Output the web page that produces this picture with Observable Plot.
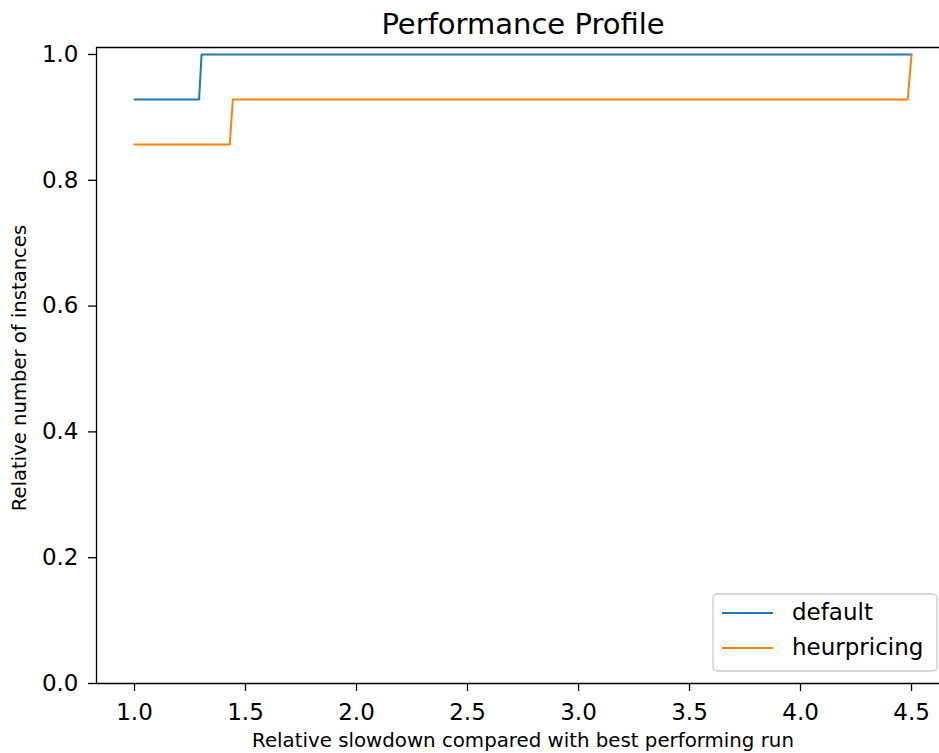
<!DOCTYPE html>
<html>
<head>
<meta charset="utf-8">
<script src="https://cdn.jsdelivr.net/npm/d3@7"></script>
<script src="https://cdn.jsdelivr.net/npm/@observablehq/plot@0.6"></script>
<style>
  body { margin: 0; background: #fff; font-family: "DejaVu Sans", sans-serif; }
  #wrap { position: relative; width: 939px; height: 753px; overflow: hidden; background: #fff; }
  #title { position: absolute; left: 0; top: 0; width: 939px; height: 36px; z-index: 2; }
  #title span { position: absolute; left: 523px; top: 9.5px; transform: translateX(-50%); font-size: 29px; color: #000; white-space: nowrap; line-height: 1; }
  #chart { position: absolute; left: 0; top: 36px; }
</style>
</head>
<body>
<div id="wrap">
  <div id="title"><span>Performance Profile</span></div>
  <div id="chart"></div>
</div>
<script>
const titleText = "Performance Profile";
const xLabel = "Relative slowdown compared with best performing run";
const yLabel = "Relative number of instances";
const seriesNames = ["default", "heurpricing"];
const seriesColors = ["#1f77b4", "#ff7f0e"];

const defaultX = [1.0, 1.291, 1.302, 4.5];
const defaultY = [0.9286, 0.9286, 1.0, 1.0];
const heurX = [1.0, 1.429, 1.443, 4.483, 4.5];
const heurY = [0.857, 0.857, 0.9286, 0.9286, 1.0];

const xTicks = [1.0, 1.5, 2.0, 2.5, 3.0, 3.5, 4.0, 4.5];
const yTicks = [0.0, 0.2, 0.4, 0.6, 0.8, 1.0];

const xDomain = [0.8288, 4.626];
const yDomain = [0, 1.0111];

document.querySelector("#title span").textContent = titleText;

const rows = [];
defaultX.forEach((x, i) => rows.push({series: seriesNames[0], x, y: defaultY[i]}));
heurX.forEach((x, i) => rows.push({series: seriesNames[1], x, y: heurY[i]}));

const W = 939, H = 717, OFF = 36;
const font = "DejaVu Sans, sans-serif";

const plot = Plot.plot({
  width: W,
  height: H,
  marginLeft: 96,
  marginRight: 0,
  marginTop: 11,
  marginBottom: 70,
  style: {fontFamily: font, background: "transparent", color: "black"},
  x: {domain: xDomain, label: null},
  y: {domain: yDomain, label: null},
  color: {domain: seriesNames, range: seriesColors},
  marks: [
    Plot.axisX({ticks: xTicks, tickFormat: d3.format(".1f"), tickSize: 8, tickPadding: 12, fontSize: 23, label: null, stroke: "black", strokeWidth: 1.3}),
    Plot.axisY({ticks: yTicks, tickFormat: d3.format(".1f"), tickSize: 8, tickPadding: 10, fontSize: 23, label: null, stroke: "black", strokeWidth: 1.3}),
    Plot.ruleX([xDomain[0]], {stroke: "black", strokeWidth: 1.3}),
    Plot.ruleY([yDomain[0]], {stroke: "black", strokeWidth: 1.3}),
    Plot.ruleY([yDomain[1]], {stroke: "black", strokeWidth: 1.3}),
    Plot.line(rows, {x: "x", y: "y", z: "series", stroke: "series", strokeWidth: 2, curve: "linear"})
  ]
});

document.getElementById("chart").appendChild(plot);

const svg = d3.select(plot);
// axis labels
svg.append("text")
  .attr("x", 523).attr("y", 741 - OFF)
  .attr("text-anchor", "middle").attr("dominant-baseline", "middle")
  .attr("font-family", font).attr("font-size", 19.8).attr("fill", "black")
  .text(xLabel);
svg.append("text")
  .attr("transform", `translate(20,${368 - OFF}) rotate(-90)`)
  .attr("text-anchor", "middle").attr("dominant-baseline", "middle")
  .attr("font-family", font).attr("font-size", 19.6).attr("fill", "black")
  .text(yLabel);

// legend
const lg = svg.append("g").attr("text-anchor", "start");
lg.append("rect")
  .attr("x", 713).attr("y", 594 - OFF).attr("width", 224).attr("height", 77)
  .attr("rx", 4).attr("fill", "white").attr("fill-opacity", 0.8)
  .attr("stroke", "#cccccc").attr("stroke-width", 1.3);
seriesNames.forEach((name, i) => {
  const yy = [613, 648][i] - OFF;
  lg.append("line").attr("x1", 722).attr("x2", 773).attr("y1", yy).attr("y2", yy)
    .attr("stroke", seriesColors[i]).attr("stroke-width", 2);
  lg.append("text").attr("x", 792).attr("y", yy)
    .attr("text-anchor", "start").attr("dominant-baseline", "middle")
    .attr("font-family", font).attr("font-size", 23).attr("fill", "black")
    .text(name);
});
</script>
</body>
</html>
